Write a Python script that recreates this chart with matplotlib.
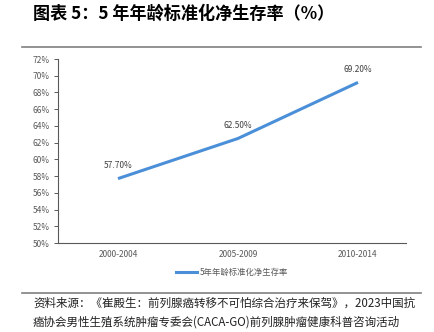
import matplotlib
matplotlib.use('Agg')
import matplotlib.pyplot as plt
from matplotlib.lines import Line2D

plt.rcParams['font.family'] = ['Noto Sans CJK SC', 'DejaVu Sans']

periods = ['2000-2004', '2005-2009', '2010-2014']
survival = [57.7, 62.5, 69.2]
series_name = '5年年龄标准化净生存率'
y_ticks = list(range(50, 73, 2))

title = '图表 5：5 年年龄标准化净生存率（%）'
source_lines = [
    '资料来源：《崔殿生：前列腺癌转移不可怕综合治疗来保驾》，2023中国抗',
    '癌协会男性生殖系统肿瘤专委会(CACA-GO)前列腺肿瘤健康科普咨询活动',
    '新闻稿，国海证券研究所',
]

W, H = 434, 332
fig = plt.figure(figsize=(W / 100, H / 100), dpi=100, facecolor='white')

# axes box in pixel coords: x 58..406, y 59..243
ax = fig.add_axes([58 / W, 1 - 243 / H, (406 - 58) / W, (243 - 59) / H])
x = list(range(len(periods)))
ax.plot(x, survival, color='#4a8fd8', linewidth=2.2, solid_capstyle='butt', label=series_name)

for xi, v in zip(x, survival):
    ax.annotate(f'{v:.2f}%', (xi, v), xytext=(0, 9.5), textcoords='offset points',
                ha='center', va='center', fontsize=6, color='#404040')

ax.set_xlim(-0.5, 2.4)
ax.set_ylim(50, 72)
ax.set_xticks(x)
ax.set_xticklabels(periods)
ax.set_yticks(y_ticks)
ax.set_yticklabels([f'{t}%' for t in y_ticks])
ax.tick_params(axis='x', length=0, pad=5, labelsize=6, colors='#595959')
ax.tick_params(axis='y', length=3, width=0.7, pad=3, labelsize=6, colors='#595959')
for s in ['top', 'right']:
    ax.spines[s].set_visible(False)
for s in ['left', 'bottom']:
    ax.spines[s].set_color('#595959')
    ax.spines[s].set_linewidth(0.8)

handle = Line2D([], [], color='#4a8fd8', linewidth=2.2)
fig.legend([handle], [series_name], loc='center', bbox_to_anchor=(232 / W, 1 - 272 / H),
           frameon=False, fontsize=6, handlelength=2.6, handletextpad=0.3,
           labelcolor='#595959')

fig.text(33 / W, 1 - 14 / H, title, fontsize=12.3, fontweight='bold', color='black',
         ha='left', va='center')

fig.add_artist(Line2D([22 / W, 421 / W], [1 - 47 / H, 1 - 47 / H], color='#808080', linewidth=1.2))
fig.add_artist(Line2D([22 / W, 421 / W], [1 - 293 / H, 1 - 293 / H], color='#808080', linewidth=1.2))

for i, line in enumerate(source_lines):
    fig.text(33 / W, 1 - (303 + 19 * i) / H, line, fontsize=8.3, color='#222222',
             ha='left', va='center')

fig.savefig('out.png', dpi=100, facecolor='white')
